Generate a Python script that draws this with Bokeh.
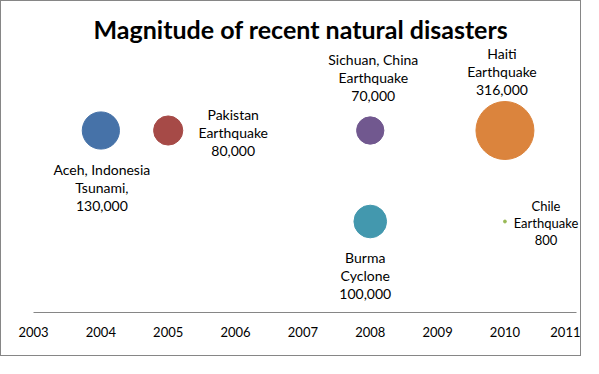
import math
from bokeh.plotting import figure
from bokeh.models import ColumnDataSource, FixedTicker, Range1d, LinearAxis
from bokeh.core.properties import value
from bokeh.embed import file_html
from bokeh.resources import INLINE

# ---- data ----
events = ["Aceh, Indonesia\nTsunami,", "Pakistan\nEarthquake", "Sichuan, China\nEarthquake",
          "Burma\nCyclone", "Haiti\nEarthquake", "Chile\nEarthquake"]
years = [2004, 2005, 2008, 2008, 2010, 2010]
rows = [2, 2, 2, 1, 2, 1]
deaths = [130000, 80000, 70000, 100000, 316000, 800]
colors = ["#4672A8", "#A64A47", "#71588F", "#4398AE", "#DB843D", "#98B954"]
tick_years = [2003, 2004, 2005, 2006, 2007, 2008, 2009, 2010, 2011]

# ---- label placement (style): screen-pixel offsets of the text box top-centre ----
placement = ["below", "right", "above", "below", "above", "right"]
offsets = {"below": (0, 30), "right": (65, -23), "above": (0, -83)}
fine_dx = [1, 0, 3, -5, -3, -24]
fine_dy = [0, -2, 3, -3, -3, -1]
label_font_sizes = ["14px", "14px", "14px", "14px", "14px", "13px"]

PX_PER_YEAR = 67.35
PX_PER_ROW = 91

max_d = max(deaths)
sizes = [58 * math.sqrt(d / max_d) for d in deaths]
labels = [f"{e}\n{d:,}" for e, d in zip(events, deaths)]
dxs = [offsets[pl][0] + fine_dx[i] for i, pl in enumerate(placement)]
dys = [offsets[pl][1] + fine_dy[i] for i, pl in enumerate(placement)]

src = ColumnDataSource(dict(x=years, y=rows, size=sizes, color=colors,
                            label=labels, dx=dxs, dy=dys, fs=label_font_sizes))

W, H = 581, 356
LEFT, RIGHT, TOP, BOTTOM = 32, 0, 42, 45
p = figure(width=W, height=H, output_backend="svg", toolbar_location=None,
           x_range=Range1d(2003, 2003 + (W - LEFT - RIGHT) / PX_PER_YEAR),
           y_range=Range1d(0, (H - TOP - BOTTOM) / PX_PER_ROW),
           x_axis_location=None, y_axis_location=None,
           min_border_left=LEFT, min_border_right=RIGHT,
           min_border_bottom=BOTTOM, min_border_top=TOP)
p.styles = {"border": "1px solid #868686"}
p.grid.visible = False
p.outline_line_color = None
p.background_fill_color = "white"
p.border_fill_color = "white"

p.title.text = "Magnitude of recent natural disasters"
p.title.align = "left"
p.title.offset = 60
p.title.text_font = "Lato"
p.title.text_font_size = "25px"
p.title.text_font_style = "bold"
p.title.text_color = "black"
p.title.standoff = 0

xaxis = LinearAxis(ticker=FixedTicker(ticks=tick_years),
                   bounds=(tick_years[0], tick_years[-1] + 0.06))
xaxis.axis_line_color = "#868686"
xaxis.major_tick_line_color = None
xaxis.minor_tick_line_color = None
xaxis.major_tick_out = 0
xaxis.major_tick_in = 0
xaxis.major_label_standoff = 14
xaxis.major_label_text_font = "Lato"
xaxis.major_label_text_font_size = "13px"
xaxis.major_label_text_color = "black"
p.add_layout(xaxis, "below")

p.scatter("x", "y", size="size", fill_color="color", line_color="color", source=src)
p.text("x", "y", text="label", x_offset="dx", y_offset="dy", source=src,
       text_align="center", text_baseline="top", text_font=value("Lato"),
       text_font_size="fs", text_line_height=1.07, text_color="black")

open("out.html", "w").write(file_html(p, INLINE))
